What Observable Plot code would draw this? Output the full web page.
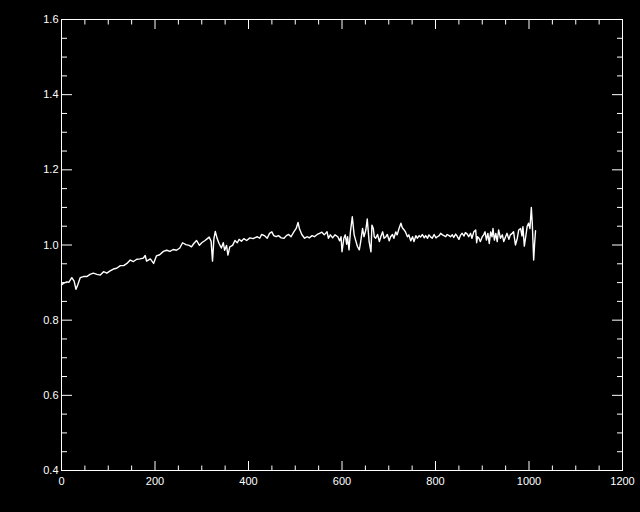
<!DOCTYPE html>
<html>
<head>
<meta charset="utf-8">
<script src="https://cdn.jsdelivr.net/npm/d3@7"></script>
<script src="https://cdn.jsdelivr.net/npm/@observablehq/plot@0.6"></script>
<style>
html, body { margin: 0; padding: 0; background: #000; }
</style>
</head>
<body>
<div id="chart"></div>
<script>
const xValues = [
  0, 4, 11, 16, 22, 27, 31, 35, 40, 47, 54, 61, 68, 76, 83, 90, 97, 104, 111, 118,
  126, 133, 140, 147, 154, 161, 168, 175, 179, 182, 190, 197,
  203, 210, 218, 225, 232, 239, 246, 253, 259, 266, 273, 278, 283, 289, 295, 300,
  307, 312, 316, 320, 323, 326, 329, 333, 337, 342, 346, 349, 353, 356, 360, 366,
  371, 376, 380, 385, 390, 396, 403, 410,
  413, 419, 424, 428, 434, 440, 445, 450, 454, 459, 464, 470, 476, 481, 486, 491,
  497, 502, 506, 509, 514, 520, 526, 530, 536, 541, 547, 552, 557, 562, 568, 571,
  575, 580, 585, 591, 595, 598, 600, 604, 607, 610, 612, 615, 618,
  622, 626, 630, 633, 637, 640, 644, 647, 651, 654, 658, 662, 664, 667, 669, 672,
  676, 680, 683, 687, 690, 694, 697, 701, 704, 708, 711, 715, 718, 722, 726, 729,
  733, 736, 740, 743, 747, 751, 754, 758, 761, 765, 768, 772, 776, 779, 783, 786,
  790, 793, 797, 801, 804, 808, 811, 815, 818, 822, 825, 829,
  832, 836, 839, 843, 846, 850, 854, 857, 861, 864, 868, 871, 875, 878, 882, 886,
  888, 890, 893, 896, 900, 903, 906, 909, 912, 915, 918, 921, 923, 926, 929, 932,
  935, 939, 943, 946, 950, 953, 957, 960, 964, 967, 971, 975, 978, 982, 985, 987,
  990, 993, 996, 999, 1002, 1005, 1007, 1010, 1012, 1014
];
const yValues = [
  0.894, 0.898, 0.902, 0.901, 0.913, 0.904, 0.882, 0.895, 0.913, 0.916, 0.916, 0.922, 0.925, 0.922, 0.920, 0.929, 0.925, 0.931, 0.936, 0.938,
  0.945, 0.945, 0.951, 0.960, 0.956, 0.962, 0.963, 0.965, 0.972, 0.957, 0.963, 0.951,
  0.971, 0.974, 0.983, 0.986, 0.983, 0.988, 0.986, 0.992, 1.006, 1.001, 0.999, 0.995, 1.004, 1.012, 0.999, 1.006,
  1.012, 1.017, 1.021, 1.010, 0.957, 1.017, 1.036, 1.017, 1.004, 0.992, 1.006, 0.986, 0.999, 0.973, 0.995, 0.999,
  1.012, 1.006, 1.015, 1.010, 1.017, 1.012, 1.019, 1.017,
  1.019, 1.022, 1.018, 1.028, 1.025, 1.018, 1.031, 1.035, 1.025, 1.022, 1.025, 1.019, 1.018, 1.025, 1.028, 1.022,
  1.035, 1.044, 1.060, 1.043, 1.028, 1.018, 1.022, 1.019, 1.025, 1.022, 1.028, 1.031, 1.034, 1.027, 1.035, 1.018,
  1.027, 1.019, 1.027, 1.022, 1.011, 1.022, 0.982, 1.018, 1.027, 1.002, 1.022, 0.987, 1.035,
  1.075, 1.027, 1.009, 0.996, 0.987, 1.009, 1.044, 1.022, 1.040, 1.069, 1.009, 0.982, 1.053, 1.044, 1.022, 1.018,
  1.028, 1.009, 1.022, 1.035, 1.018, 1.022, 1.028, 1.011, 1.022, 1.028, 1.018, 1.035, 1.027, 1.044, 1.058, 1.046,
  1.040, 1.034, 1.022, 1.027, 1.011, 1.022, 1.009, 1.025, 1.018, 1.025, 1.021, 1.028, 1.019, 1.025, 1.018, 1.027,
  1.021, 1.018, 1.028, 1.019, 1.022, 1.025, 1.031, 1.027, 1.025, 1.022, 1.028, 1.025,
  1.022, 1.027, 1.020, 1.029, 1.024, 1.015, 1.027, 1.031, 1.024, 1.033, 1.029, 1.022, 1.031, 1.018, 1.035, 1.040,
  1.006, 1.022, 1.018, 1.009, 1.022, 1.027, 1.035, 1.013, 1.031, 1.004, 1.035, 1.022, 1.044, 1.013, 1.031, 1.009,
  1.040, 1.018, 1.027, 1.009, 1.022, 1.031, 1.015, 1.027, 1.031, 1.035, 1.000, 1.018, 1.040, 1.044, 1.024, 1.049,
  0.997, 1.022, 1.049, 1.058, 1.044, 1.100, 1.058, 0.960, 1.004, 1.038
];
const xMajorTicks = [0, 200, 400, 600, 800, 1000, 1200];
const xMinorTicks = [50, 100, 150, 250, 300, 350, 450, 500, 550, 650, 700, 750, 850, 900, 950, 1050, 1100, 1150];
const yMajorTicks = [0.4, 0.6, 0.8, 1.0, 1.2, 1.4, 1.6];
const yMinorTicks = [0.45, 0.5, 0.55, 0.65, 0.7, 0.75, 0.85, 0.9, 0.95, 1.05, 1.1, 1.15, 1.25, 1.3, 1.35, 1.45, 1.5, 1.55];

const data = xValues.map((x, i) => ({x, y: yValues[i]}));
const W = "#ffffff";

const chart = Plot.plot({
  width: 640,
  height: 512,
  marginLeft: 61,
  marginRight: 18,
  marginTop: 19,
  marginBottom: 42,
  style: {background: "#000", color: W, fontFamily: "'Liberation Sans', Arial, sans-serif", fontSize: "11px"},
  x: {domain: [0, 1200], label: null},
  y: {domain: [0.4, 1.6], label: null},
  marks: [
    Plot.axisX({anchor: "bottom", ticks: xMajorTicks, tickSize: 9, dy: -9, fill: "none", stroke: W, label: null}),
    Plot.axisX({anchor: "bottom", ticks: xMinorTicks, tickSize: 4.5, dy: -4.5, fill: "none", stroke: W, label: null}),
    Plot.axisX({anchor: "top", ticks: xMajorTicks, tickSize: 9, dy: 9, fill: "none", stroke: W, label: null}),
    Plot.axisX({anchor: "top", ticks: xMinorTicks, tickSize: 4.5, dy: 4.5, fill: "none", stroke: W, label: null}),
    Plot.axisY({anchor: "left", ticks: yMajorTicks, tickSize: 11, dx: 11, fill: "none", stroke: W, label: null}),
    Plot.axisY({anchor: "left", ticks: yMinorTicks, tickSize: 6, dx: 6, fill: "none", stroke: W, label: null}),
    Plot.axisY({anchor: "right", ticks: yMajorTicks, tickSize: 11, dx: -11, fill: "none", stroke: W, label: null}),
    Plot.axisY({anchor: "right", ticks: yMinorTicks, tickSize: 6, dx: -6, fill: "none", stroke: W, label: null}),
    Plot.axisX({anchor: "bottom", ticks: xMajorTicks, tickSize: 0, tickPadding: 7, tickFormat: d3.format("d"), fill: W, label: null}),
    Plot.axisY({anchor: "left", ticks: yMajorTicks, tickSize: 0, tickPadding: 3, tickFormat: d3.format(".1f"), fill: W, label: null}),
    Plot.frame({stroke: W, strokeWidth: 1}),
    Plot.line(data, {x: "x", y: "y", stroke: W, strokeWidth: 1.4})
  ]
});
document.getElementById("chart").appendChild(chart);
</script>
</body>
</html>
